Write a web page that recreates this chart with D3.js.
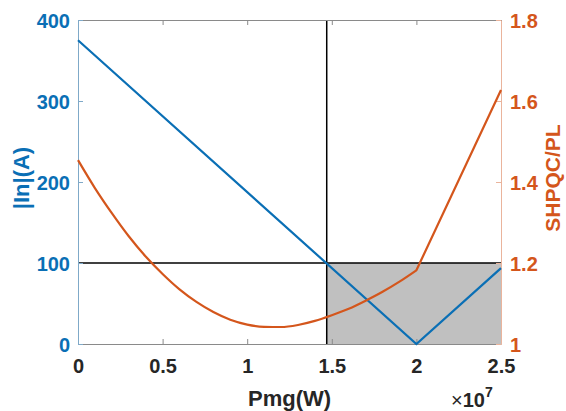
<!DOCTYPE html>
<html>
<head>
<meta charset="utf-8">
<script src="https://cdn.jsdelivr.net/npm/d3@7"></script>
<style>
  html, body { margin: 0; padding: 0; background: #fff; }
  svg text { font-family: "Liberation Sans", Arial, sans-serif; font-weight: bold; }
</style>
</head>
<body>
<svg id="chart" width="566" height="411"></svg>
<script>
// Generator power Pmg (×10^7 W)
const pmg = [0, 0.1, 0.2, 0.3, 0.4, 0.5, 0.6, 0.7, 0.8, 0.9, 1.0, 1.1, 1.2,
             1.3, 1.4, 1.5, 1.6, 1.7, 1.8, 1.9, 2.0, 2.5];
// Ratio SHPQC/PL (right axis)
const ratio = [1.454, 1.385, 1.323, 1.266, 1.216, 1.173, 1.135, 1.104, 1.079, 1.060,
               1.048, 1.0425, 1.042, 1.047, 1.057, 1.071, 1.087, 1.107, 1.129, 1.154,
               1.182, 1.627];
// index where the ratio curve turns into a straight rise
const kinkIndex = 20;
// |In| current (left axis), breakpoints of the V-shaped curve
const inX = [0, 2.0, 2.5];
const inY = [375, 0, 93.75];
// Limit lines and highlighted region
const limitCurrent = 100;
const limitPmg = 1.47;
const regionX = [1.47, 2.5];
const regionY = [0, 100];

const xTicks = [0, 0.5, 1, 1.5, 2, 2.5];
const yLeftTicks = [0, 100, 200, 300, 400];
const yRightTicks = [1, 1.2, 1.4, 1.6, 1.8];

const blue = "#0a6fb5", orange = "#d4561c";
const L = 78, R = 501, T = 20, B = 344;

const svg = d3.select("#chart");
const x = d3.scaleLinear().domain([0, 2.5]).range([L, R]);
const yL = d3.scaleLinear().domain([0, 400]).range([B, T]);
const yR = d3.scaleLinear().domain([1, 1.8]).range([B, T]);

// shaded region
svg.append("rect")
  .attr("x", x(regionX[0])).attr("y", yL(regionY[1]))
  .attr("width", x(regionX[1]) - x(regionX[0]))
  .attr("height", yL(regionY[0]) - yL(regionY[1]))
  .attr("fill", "#c0c0c0");

// limit lines
svg.append("line")
  .attr("x1", L).attr("x2", R).attr("y1", yL(limitCurrent)).attr("y2", yL(limitCurrent))
  .attr("stroke", "#000").attr("stroke-width", 1.5);
svg.append("line")
  .attr("x1", x(limitPmg)).attr("x2", x(limitPmg)).attr("y1", T).attr("y2", B)
  .attr("stroke", "#000").attr("stroke-width", 1.5);

// axes (ticks inward)
const tk = 5;
const gB = svg.append("g").attr("transform", `translate(0,${B})`)
  .call(d3.axisBottom(x).tickValues(xTicks).tickSizeInner(-tk).tickSizeOuter(0).tickPadding(15)
        .tickFormat(d => d3.format("")(d)));
const gT = svg.append("g").attr("transform", `translate(0,${T})`)
  .call(d3.axisTop(x).tickValues(xTicks).tickSizeInner(-tk).tickSizeOuter(0).tickFormat(""));
const gL = svg.append("g").attr("transform", `translate(${L},0)`)
  .call(d3.axisLeft(yL).tickValues(yLeftTicks).tickSizeInner(-tk).tickSizeOuter(0).tickPadding(8));
const gR = svg.append("g").attr("transform", `translate(${R},0)`)
  .call(d3.axisRight(yR).tickValues(yRightTicks).tickSizeInner(-tk).tickSizeOuter(0).tickPadding(9)
        .tickFormat(d => d3.format("")(+d.toFixed(1))));

[gB, gT].forEach(g => {
  g.select(".domain").attr("stroke", "#8a8a8a").attr("stroke-width", 1);
  g.selectAll(".tick line").attr("stroke", "#8a8a8a");
});
gB.selectAll("text").attr("fill", "#262626").attr("font-size", 20);
gL.select(".domain").attr("stroke", "#7fa9c8").attr("stroke-width", 1);
gL.selectAll(".tick line").attr("stroke", "#7fa9c8");
gL.selectAll("text").attr("fill", blue).attr("font-size", 20).attr("dy", "0.36em");
gR.select(".domain").attr("stroke", "#eab49c").attr("stroke-width", 1);
gR.selectAll(".tick line").attr("stroke", "#eab49c");
gR.selectAll("text").attr("fill", orange).attr("font-size", 20).attr("dy", "0.36em");
svg.selectAll(".tick text").style("font-family", "'Liberation Sans', Arial, sans-serif").style("font-weight", "bold");

// |In| curve
svg.append("path")
  .datum(inX.map((v, i) => [v, inY[i]]))
  .attr("fill", "none").attr("stroke", blue).attr("stroke-width", 2.2)
  .attr("d", d3.line().x(d => x(d[0])).y(d => yL(d[1])));

// SHPQC/PL curve: smooth bowl up to the kink, straight rise after it
const ratioPts = pmg.map((v, i) => [v, ratio[i]]);
const smoothLine = d3.line().curve(d3.curveMonotoneX).x(d => x(d[0])).y(d => yR(d[1]));
const straightLine = d3.line().x(d => x(d[0])).y(d => yR(d[1]));
svg.append("path")
  .attr("fill", "none").attr("stroke", orange).attr("stroke-width", 2.2)
  .attr("stroke-linejoin", "round")
  .attr("d", smoothLine(ratioPts.slice(0, kinkIndex + 1)) + straightLine(ratioPts.slice(kinkIndex)).replace(/^M/, "L"));

// axis titles
svg.append("text").attr("transform", `translate(29,178) rotate(-90)`)
  .attr("text-anchor", "middle").attr("fill", blue).attr("font-size", 22).text("|In|(A)");
svg.append("text").attr("transform", `translate(560,178) rotate(-90)`)
  .attr("text-anchor", "middle").attr("fill", orange).attr("font-size", 21).text("SHPQC/PL");
svg.append("text").attr("x", (L + R) / 2).attr("y", 406)
  .attr("text-anchor", "middle").attr("fill", "#262626").attr("font-size", 22).text("Pmg(W)");

// exponent label
const ex = svg.append("text").attr("x", 451).attr("y", 407).attr("fill", "#262626").attr("font-size", 20);
ex.append("tspan").attr("font-weight", "normal").text("×");
ex.append("tspan").text("10");
ex.append("tspan").attr("font-size", 14).attr("dy", -10).text("7");
</script>
</body>
</html>
